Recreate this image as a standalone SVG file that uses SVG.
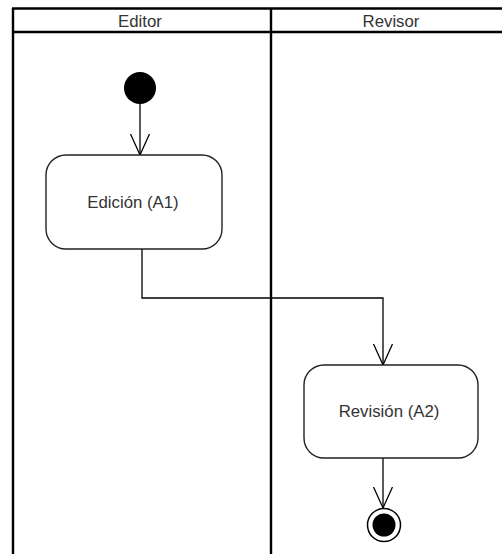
<svg xmlns="http://www.w3.org/2000/svg" width="502" height="554" viewBox="0 0 502 554">
<style>
.lane{stroke:#000;stroke-width:2.4;fill:none}
.lbl{font-family:"Liberation Sans",Arial,sans-serif;font-size:16.8px;fill:#333;text-anchor:middle}
.act{fill:#fff;stroke:#222;stroke-width:1.4}
.conn{stroke:#000;stroke-width:1.3;fill:none}
</style>
<defs>
<marker id="open" viewBox="0 0 24 22" refX="21" refY="11" markerWidth="24" markerHeight="22" markerUnits="userSpaceOnUse" orient="auto">
<path d="M0,1.5 L21,11 L0,20.5" fill="none" stroke="#000" stroke-width="1.3"/>
</marker>
</defs>
<rect width="502" height="554" fill="#fff"/>
<g id="lanes">
<line class="lane" x1="12" y1="8.5" x2="502" y2="8.5"/>
<line class="lane" x1="12" y1="32" x2="502" y2="32"/>
<line class="lane" x1="13" y1="8" x2="13" y2="554"/>
<line class="lane" x1="271" y1="8" x2="271" y2="554"/>
<text class="lbl" x="140" y="27">Editor</text>
<text class="lbl" x="391" y="27">Revisor</text>
</g>
<g id="connectors">
<line class="conn" x1="140" y1="103" x2="140" y2="155" marker-end="url(#open)"/>
<polyline class="conn" points="142,249 142,298 383,298 383,365" marker-end="url(#open)"/>
<line class="conn" x1="383" y1="458" x2="383" y2="508" marker-end="url(#open)"/>
</g>
<g id="start">
<circle cx="140" cy="88" r="16" fill="#000"/>
</g>
<g id="a1">
<rect class="act" x="46" y="155" width="176" height="94" rx="20"/>
<text class="lbl" x="133" y="208">Edición (A1)</text>
</g>
<g id="a2">
<rect class="act" x="304" y="365" width="174" height="93" rx="20"/>
<text class="lbl" x="389" y="417">Revisión (A2)</text>
</g>
<g id="end">
<circle cx="384" cy="525" r="16.5" fill="#fff" stroke="#000" stroke-width="1.5"/>
<circle cx="384" cy="525" r="11.5" fill="#000"/>
</g>
</svg>
